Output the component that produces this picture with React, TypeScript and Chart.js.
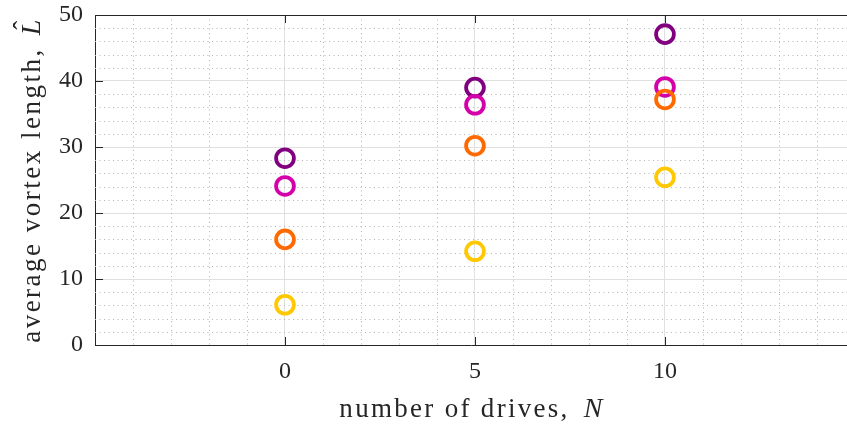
import { useEffect, useRef } from "react";
import { Chart, registerables } from "chart.js";

Chart.register(...registerables);

// Number of drives on the horizontal axis
const drives = [0, 5, 10];

// Average vortex length for each configuration
const lengthPurple = [28.3, 39.0, 47.1];
const lengthMagenta = [24.1, 36.4, 39.1];
const lengthOrange = [16.0, 30.2, 37.2];
const lengthYellow = [6.1, 14.2, 25.4];

// Tick labels
const xTicks = [0, 5, 10];
const yTicks = [0, 10, 20, 30, 40, 50];

const series = [
  { values: lengthPurple, color: "#800080" },
  { values: lengthMagenta, color: "#d400aa" },
  { values: lengthOrange, color: "#ff6a00" },
  { values: lengthYellow, color: "#ffc800" },
];

const INK = "#262626";
const SERIF = "'Liberation Serif', 'Times New Roman', serif";

// Drop the automatic label overhang so the plot area fills the canvas edges
const noPadding = (s: any) => {
  s.paddingTop = 0;
  s.paddingBottom = 0;
  s.paddingLeft = 0;
  s.paddingRight = 0;
};

// Dotted minor grid, inward tick marks, top frame line and the axis titles
const framePlugin = {
  id: "frame",
  beforeDatasetsDraw(chart: any) {
    const { ctx, chartArea: a, scales } = chart;
    const xs = scales.x;
    const ys = scales.y;
    ctx.save();
    ctx.strokeStyle = "#b4b4b4";
    ctx.lineWidth = 1;
    ctx.setLineDash([1, 3.5]);
    for (let v = Math.ceil(xs.min); v <= xs.max; v++) {
      if (v % 5 === 0) continue;
      const px = Math.round(xs.getPixelForValue(v)) + 0.5;
      ctx.beginPath();
      ctx.moveTo(px, a.top);
      ctx.lineTo(px, a.bottom);
      ctx.stroke();
    }
    for (let v = 2; v < 50; v += 2) {
      if (v % 10 === 0) continue;
      const py = Math.round(ys.getPixelForValue(v)) + 0.5;
      ctx.beginPath();
      ctx.moveTo(a.left, py);
      ctx.lineTo(a.right, py);
      ctx.stroke();
    }
    ctx.setLineDash([]);
    ctx.strokeStyle = INK;
    // inward ticks
    for (const v of yTicks) {
      const py = Math.round(ys.getPixelForValue(v)) + 0.5;
      ctx.beginPath();
      ctx.moveTo(a.left, py);
      ctx.lineTo(a.left + 8, py);
      ctx.stroke();
    }
    for (const v of xTicks) {
      const px = Math.round(xs.getPixelForValue(v)) + 0.5;
      ctx.beginPath();
      ctx.moveTo(px, a.bottom);
      ctx.lineTo(px, a.bottom - 8);
      ctx.moveTo(px, a.top);
      ctx.lineTo(px, a.top + 8);
      ctx.stroke();
    }
    // top frame line
    ctx.beginPath();
    ctx.moveTo(a.left, Math.round(a.top) + 0.5);
    ctx.lineTo(a.right, Math.round(a.top) + 0.5);
    ctx.stroke();
    ctx.restore();
  },
  afterDraw(chart: any) {
    const { ctx, chartArea: a } = chart;
    ctx.save();
    ctx.fillStyle = INK;
    ctx.textBaseline = "alphabetic";
    ctx.textAlign = "left";

    const reg = `27px ${SERIF}`;
    const ital = `italic 28px ${SERIF}`;

    // x title: "number of drives, N"
    (ctx as any).letterSpacing = "2.3px";
    ctx.font = reg;
    const xText = "number of drives,";
    const w1 = ctx.measureText(xText).width;
    ctx.font = ital;
    const wN = ctx.measureText("N").width;
    const gap = 14;
    const cx = 472;
    const sx = cx - (w1 + gap + wN) / 2;
    ctx.font = reg;
    ctx.fillText(xText, sx, 417);
    ctx.font = ital;
    ctx.fillText("N", sx + w1 + gap, 417);

    // y title: "average vortex length, L̂" (rotated)
    (ctx as any).letterSpacing = "2.5px";
    ctx.translate(40, (a.top + a.bottom) / 2);
    ctx.rotate(-Math.PI / 2);
    ctx.font = reg;
    const yText = "average vortex length,";
    const v1 = ctx.measureText(yText).width;
    ctx.font = ital;
    const wL = ctx.measureText("L").width;
    const ygap = 12;
    const sy = -(v1 + ygap + wL) / 2;
    ctx.font = reg;
    ctx.fillText(yText, sy, 0);
    ctx.font = ital;
    const lx = sy + v1 + ygap;
    ctx.fillText("L", lx, 0);
    ctx.font = reg;
    ctx.textAlign = "center";
    (ctx as any).letterSpacing = "0px";
    ctx.fillText("\u02C6", lx + wL * 0.55, -8);
    ctx.restore();
  },
};

export default function App() {
  const ref = useRef<HTMLCanvasElement>(null);

  useEffect(() => {
    document.body.style.margin = "0";
    const canvas = ref.current!;
    const tickFont = { family: SERIF, size: 24 };
    const chart = new Chart(canvas, {
      type: "scatter",
      data: {
        datasets: series.map((s, i) => ({
          data: drives.map((x, j) => ({ x, y: s.values[j] })),
          borderColor: s.color,
          backgroundColor: "rgba(0,0,0,0)",
          pointRadius: 8.9,
          pointHoverRadius: 8.9,
          pointBorderWidth: 3.8,
          pointHoverBorderWidth: 3.8,
          showLine: false,
          order: series.length - i,
        })),
      },
      options: {
        animation: false,
        responsive: false,
        devicePixelRatio: 1,
        events: [],
        layout: {
          autoPadding: false,
          padding: { top: 15, right: 0, left: 0, bottom: 0 },
        },
        plugins: {
          legend: { display: false },
          tooltip: { enabled: false },
        },
        scales: {
          x: {
            type: "linear",
            min: -5,
            max: 14.79,
            afterBuildTicks: (s: any) => {
              s.ticks = xTicks.map((value) => ({ value }));
            },
            afterFit: (s: any) => {
              s.height = 83;
              noPadding(s);
            },
            grid: { color: "#e0e0e0", lineWidth: 1, drawTicks: false },
            border: { color: INK, width: 1 },
            ticks: { font: tickFont, color: INK, padding: 12 },
          },
          y: {
            type: "linear",
            min: 0,
            max: 50,
            afterBuildTicks: (s: any) => {
              s.ticks = yTicks.map((value) => ({ value }));
            },
            afterFit: (s: any) => {
              s.width = 95;
              noPadding(s);
            },
            grid: { color: "#e0e0e0", lineWidth: 1, drawTicks: false },
            border: { color: INK, width: 1 },
            ticks: { font: tickFont, color: INK, padding: 12 },
          },
        },
      },
      plugins: [framePlugin],
    });
    return () => chart.destroy();
  }, []);

  return (
    <div style={{ width: 847, height: 428 }}>
      <canvas ref={ref} width={847} height={428} style={{ display: "block" }} />
    </div>
  );
}
